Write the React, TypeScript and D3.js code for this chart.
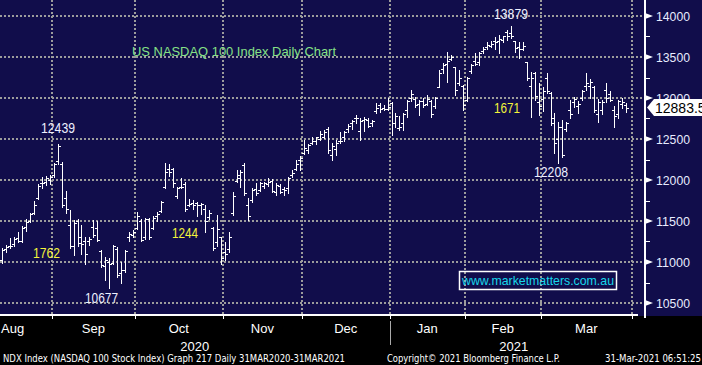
import React from 'react';
import * as d3 from 'd3';

// trading days shown, month by month (Aug 2020 .. Mar 2021)
const monthLabels = ['Aug', 'Sep', 'Oct', 'Nov', 'Dec', 'Jan', 'Feb', 'Mar'];
const monthDays = [
  [13, 14, 17, 18, 19, 20, 21, 24, 25, 26, 27, 28, 31],
  [1, 2, 3, 4, 8, 9, 10, 11, 14, 15, 16, 17, 18, 21, 22, 23, 24, 25, 28, 29, 30],
  [1, 2, 5, 6, 7, 8, 9, 12, 13, 14, 15, 16, 19, 20, 21, 22, 23, 26, 27, 28, 29, 30],
  [2, 3, 4, 5, 6, 9, 10, 11, 12, 13, 16, 17, 18, 19, 20, 23, 24, 25, 27, 30],
  [1, 2, 3, 4, 7, 8, 9, 10, 11, 14, 15, 16, 17, 18, 21, 22, 23, 24, 28, 29, 30, 31],
  [4, 5, 6, 7, 8, 11, 12, 13, 14, 15, 19, 20, 21, 22, 25, 26, 27, 28, 29],
  [1, 2, 3, 4, 5, 8, 9, 10, 11, 12, 16, 17, 18, 19, 22, 23, 24, 25, 26],
  [1, 2, 3, 4, 5, 8, 9, 10, 11, 12, 15, 16, 17, 18, 19, 22, 23, 24, 25, 26, 29, 30],
];
const yearLabels = ['2020', '2021'];

const opens = [
  11020, 11160, 11190, 11220, 11290, 11250, 11430, 11500, 11600, 11780, 11960, 11980, 12000,
  12060, 12230, 12200, 11780, 11450, 11200, 11500, 11300, 11250, 11250, 11430, 11420, 11140, 10950, 11000, 10990, 11160, 10860, 10900, 11300, 11330,
  11420, 11500, 11300, 11530, 11420, 11560, 11620, 11920, 12130, 12130, 11800, 11920, 11950, 11700, 11720, 11720, 11690, 11650, 11550, 11420, 11240, 11300,
  11120, 11160, 11600, 11990, 12020, 12180, 11690, 11760, 11890, 11880, 11930, 11950, 11990, 11850, 11930, 11890, 11900, 12060, 12130, 12250,
  12330, 12370, 12450, 12470, 12500, 12530, 12620, 12300, 12380, 12480, 12520, 12620, 12700, 12760, 12600, 12730, 12730, 12690, 12840, 12920, 12880, 12860,
  12940, 12690, 12640, 12690, 12850, 13000, 12990, 12930, 12960, 12930, 12960, 12900, 13140, 13350, 13420, 13480, 13380, 13180, 13150,
  12980, 13330, 13450, 13440, 13570, 13620, 13640, 13700, 13700, 13710, 13800, 13790, 13690, 13620, 13600, 13440, 13150, 13300, 12950,
  12990, 13250, 13060, 12750, 12500, 12650, 12620, 12850, 12950, 12900, 13000, 13150, 13150, 13130, 12800, 12850, 13100, 13050, 12850, 12800, 12930, 12920,
];
const highs = [
  11170, 11210, 11290, 11300, 11370, 11440, 11520, 11600, 11740, 11950, 12040, 12050, 12060,
  12210, 12439, 12222, 11860, 11640, 11515, 11530, 11450, 11310, 11300, 11510, 11500, 11150, 11065, 11050, 11210, 11185, 11000, 11150, 11370, 11390,
  11610, 11520, 11540, 11540, 11560, 11610, 11740, 12210, 12190, 12150, 11920, 12020, 11980, 11770, 11760, 11730, 11720, 11700, 11640, 11430, 11575, 11310,
  11240, 11360, 11855, 12120, 12120, 12210, 11780, 11900, 11960, 11980, 11980, 12030, 12010, 11960, 11950, 11920, 12040, 12120, 12240, 12290,
  12490, 12440, 12520, 12530, 12600, 12610, 12650, 12450, 12490, 12590, 12600, 12680, 12735, 12795, 12760, 12770, 12760, 12730, 12940, 12940, 12920, 13000,
  12955, 12820, 12780, 12820, 12980, 13100, 13015, 12980, 13000, 13040, 12980, 13015, 13340, 13430, 13560, 13525, 13380, 13340, 13160,
  13255, 13420, 13550, 13560, 13620, 13680, 13690, 13745, 13770, 13760, 13830, 13879, 13700, 13680, 13680, 13440, 13320, 13320, 13185,
  13135, 13305, 13070, 12820, 12710, 12735, 12710, 12980, 13015, 12960, 13100, 13305, 13230, 13150, 12990, 12980, 13180, 13080, 12900, 12980, 13000, 12940,
];
const lows = [
  10990, 11120, 11170, 11200, 11240, 11240, 11380, 11490, 11580, 11770, 11900, 11940, 11950,
  12040, 12190, 11670, 11600, 11175, 11080, 11200, 11100, 10970, 11210, 11300, 11250, 10940, 10785, 10677, 10970, 10820, 10750, 10880, 11250, 11300,
  11400, 11250, 11280, 11280, 11400, 11500, 11610, 11905, 12050, 11920, 11780, 11900, 11620, 11680, 11650, 11560, 11580, 11370, 11520, 11150, 11190, 10970,
  11020, 11125, 11575, 11980, 11920, 11820, 11515, 11735, 11820, 11860, 11900, 11930, 11850, 11820, 11840, 11820, 11840, 12040, 12120, 12120,
  12320, 12330, 12440, 12440, 12490, 12510, 12330, 12245, 12310, 12450, 12480, 12580, 12620, 12700, 12490, 12600, 12650, 12660, 12820, 12830, 12850, 12850,
  12550, 12650, 12610, 12610, 12770, 12960, 12890, 12795, 12890, 12915, 12770, 12880, 13135, 13305, 13200, 13465, 13040, 13160, 12855,
  12960, 13300, 13400, 13400, 13550, 13600, 13620, 13600, 13550, 13680, 13710, 13730, 13560, 13485, 13590, 13220, 12770, 12980, 12795,
  12840, 13060, 12670, 12330, 12208, 12280, 12600, 12760, 12890, 12820, 12970, 13100, 13000, 12830, 12710, 12800, 12950, 12960, 12650, 12760, 12880, 12830,
];
const closes = [
  11150, 11180, 11200, 11280, 11260, 11420, 11490, 11580, 11700, 11930, 11960, 12020, 12040,
  12200, 12420, 11700, 11650, 11200, 11470, 11230, 11220, 11100, 11280, 11330, 11270, 10960, 11020, 10980, 11190, 10840, 10900, 11140, 11340, 11360,
  11560, 11270, 11520, 11300, 11540, 11590, 11730, 12100, 12100, 11960, 11900, 11910, 11650, 11710, 11700, 11700, 11710, 11500, 11600, 11170, 11400, 11050,
  11100, 11300, 11800, 12060, 12100, 11840, 11560, 11880, 11840, 11960, 11960, 11970, 11860, 11940, 11850, 11880, 12030, 12080, 12200, 12270,
  12390, 12430, 12470, 12520, 12560, 12590, 12360, 12420, 12450, 12470, 12590, 12660, 12720, 12760, 12720, 12740, 12660, 12720, 12880, 12860, 12870, 12890,
  12690, 12780, 12650, 12800, 12960, 13050, 12920, 12960, 12910, 12990, 12800, 13000, 13300, 13400, 13450, 13500, 13100, 13250, 12920,
  13240, 13400, 13420, 13550, 13600, 13650, 13660, 13680, 13720, 13750, 13760, 13760, 13610, 13600, 13640, 13250, 13250, 13020, 12900,
  13090, 13090, 12700, 12450, 12650, 12300, 12700, 12800, 12990, 12930, 13080, 13180, 13200, 12850, 12950, 12950, 13000, 12980, 12780, 12960, 12950, 12883.55,
];

const priceTicks = [10500, 11000, 11500, 12000, 12500, 13000, 13500, 14000];
const minorTicks = [10750, 11250, 11750, 12250, 12750, 13250, 13750];
const lastPrice = 12883.55;

// call-outs written on the chart
const notes = [
  { text: '12439', x: 41, y: 133, w: 34, color: '#eef0ff' },
  { text: '1762', x: 33, y: 258, w: 27, color: '#f4f43a' },
  { text: '10677', x: 85, y: 303, w: 33, color: '#eef0ff' },
  { text: '1244', x: 172, y: 238, w: 26, color: '#f4f43a' },
  { text: '13879', x: 494, y: 19, w: 34, color: '#eef0ff' },
  { text: '1671', x: 494, y: 113, w: 26, color: '#f4f43a' },
  { text: '12208', x: 534, y: 177, w: 34, color: '#eef0ff' },
];

const font = 'Liberation Sans, Arial, sans-serif';
const navy = '#110d4b';
const grid = '#9c9c9c';

export default function App() {
  const n = opens.length;
  // one slot per trading day; the axis runs on to 1 Apr (Mar 31 not printed yet)
  const x = d3.scaleLinear().domain([0, n + 1]).range([0, 632]);
  const y = d3.scaleLinear().domain([10500, 14000]).range([303, 16]);

  const starts: number[] = [];
  let acc = 0;
  monthDays.forEach(d => { starts.push(acc); acc += d.length; });
  const ends = [...starts.slice(1), n + 1];

  const barPath = d3.range(n).map(i => {
    const cx = Math.round(x(i + 0.5)) + 0.5;
    const yh = Math.round(y(highs[i]));
    const yl = Math.round(y(lows[i])) + 1;
    const yo = Math.round(y(opens[i])) + 0.5;
    const yc = Math.round(y(closes[i])) + 0.5;
    return `M${cx},${yh}V${yl}M${cx - 2.5},${yo}H${cx}M${cx},${yc}H${cx + 2.5}`;
  }).join('');

  const yearSplit = x(starts[5]);
  const yLast = y(lastPrice);

  return (
    <svg width={702} height={365} style={{ position: 'fixed', left: 0, top: 0, display: 'block' }}>
      <rect x={0} y={0} width={702} height={365} fill="#000" />
      <rect x={0} y={0} width={702} height={316} fill={navy} />

      {/* dotted grid */}
      <g stroke={grid} strokeWidth={2} strokeDasharray="2 2" shapeRendering="crispEdges">
        {priceTicks.map(t => (
          <line key={t} x1={0} x2={642} y1={Math.round(y(t))} y2={Math.round(y(t))} />
        ))}
        {ends.map(e => (
          <line key={e} x1={Math.round(x(e))} x2={Math.round(x(e))} y1={0} y2={315} />
        ))}
      </g>

      <text x={132} y={56} fill="#86e286" fontFamily={font} fontSize={13} textLength={204} lengthAdjust="spacingAndGlyphs">
        US NASDAQ 100 Index Daily Chart
      </text>

      <path d={barPath} stroke="#fff" strokeWidth={1} fill="none" shapeRendering="crispEdges" />

      {notes.map(d => (
        <text key={d.text} x={d.x} y={d.y} fill={d.color} fontFamily={font} fontSize={14}
          textLength={d.w} lengthAdjust="spacingAndGlyphs">{d.text}</text>
      ))}

      <rect x={459.5} y={271.5} width={157} height={18} fill="none" stroke="#fff" strokeWidth={1.5} />
      <text x={462} y={285} fill="#18d6ea" fontFamily={font} fontSize={13} textLength={152} lengthAdjust="spacingAndGlyphs">
        www.marketmatters.com.au
      </text>

      {/* x axis */}
      <line x1={0} x2={638} y1={315} y2={315} stroke="#fff" strokeWidth={2} />
      {ends.map(e => (
        <line key={'t' + e} x1={Math.round(x(e)) + 0.5} x2={Math.round(x(e)) + 0.5} y1={315} y2={319} stroke="#fff" strokeWidth={1} />
      ))}
      {monthLabels.map((m, i) => {
        const cx = (x(starts[i]) + x(ends[i])) / 2;
        return i === 0
          ? <text key={m} x={1} y={333} fill="#fff" fontFamily={font} fontSize={13}>{m}</text>
          : <text key={m} x={cx} y={333} fill="#fff" fontFamily={font} fontSize={13} textAnchor="middle">{m}</text>;
      })}
      <text x={yearSplit / 2} y={351} fill="#fff" fontFamily={font} fontSize={13} textAnchor="middle">{yearLabels[0]}</text>
      <text x={(yearSplit + x(n + 1)) / 2 + 3} y={351} fill="#fff" fontFamily={font} fontSize={13} textAnchor="middle">{yearLabels[1]}</text>
      <line x1={Math.round(yearSplit) + 0.5} x2={Math.round(yearSplit) + 0.5} y1={321} y2={345} stroke="#aaa" strokeWidth={1} />

      {/* right price axis */}
      <line x1={645} x2={645} y1={0} y2={318} stroke="#fff" strokeWidth={2} />
      {minorTicks.map(t => (
        <line key={t} x1={645} x2={650} y1={Math.round(y(t)) + 0.5} y2={Math.round(y(t)) + 0.5} stroke="#fff" strokeWidth={1} />
      ))}
      {priceTicks.map(t => (
        <g key={t}>
          <polygon points={`645,${y(t) - 3} 653,${y(t)} 645,${y(t) + 3}`} fill="#fff" />
          <text x={656} y={y(t) + 5} fill="#e8ecff" fontFamily={font} fontSize={13} textLength={34} lengthAdjust="spacingAndGlyphs">{t}</text>
        </g>
      ))}
      <polygon points={`647,${yLast} 654,${yLast - 8.5} 702,${yLast - 8.5} 702,${yLast + 8.5} 654,${yLast + 8.5}`} fill="#fff" />
      <text x={655} y={yLast + 5.5} fill="#000" fontFamily={font} fontSize={14}>{d3.format('.2f')(lastPrice)}</text>

      {/* footer */}
      <g fill="#fff" fontFamily="DejaVu Sans Condensed, Liberation Sans Narrow, sans-serif" fontSize={10}>
        <text x={3} y={362} textLength={342} lengthAdjust="spacingAndGlyphs">NDX Index (NASDAQ 100 Stock Index) Graph 217  Daily 31MAR2020-31MAR2021</text>
        <text x={387} y={362} textLength={173} lengthAdjust="spacingAndGlyphs">Copyright© 2021 Bloomberg Finance L.P.</text>
        <text x={605} y={362} textLength={96} lengthAdjust="spacingAndGlyphs">31-Mar-2021 06:51:25</text>
      </g>
    </svg>
  );
}
